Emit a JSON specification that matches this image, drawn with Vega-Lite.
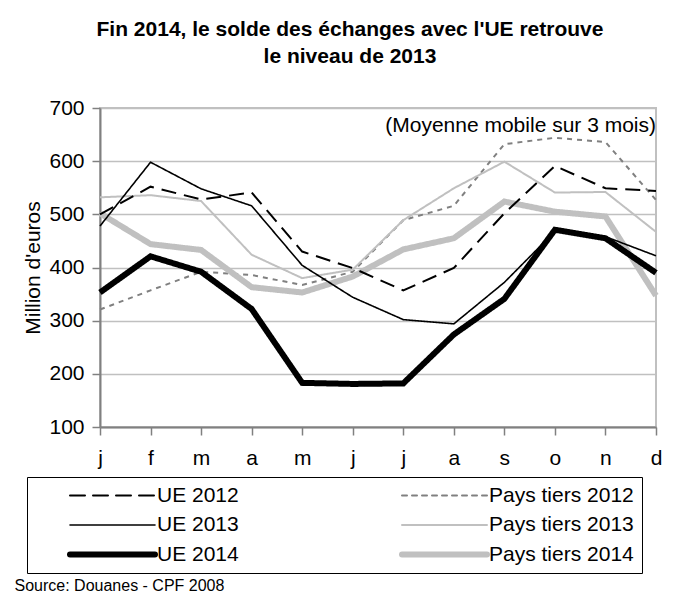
{
  "$schema": "https://vega.github.io/schema/vega-lite/v6.json",
  "autosize": {"type": "none"},
  "width": 556,
  "height": 319,
  "padding": {"left": 100, "top": 108, "right": 24, "bottom": 170},
  "background": "white",
  "config": {
    "font": "Liberation Sans",
    "view": {"stroke": "#c0c0c0", "strokeWidth": 2},
    "axis": {
      "labelFont": "Liberation Sans",
      "labelFontSize": 21,
      "labelColor": "black",
      "domainColor": "#808080",
      "domainWidth": 2,
      "tickColor": "#808080",
      "tickWidth": 1.5,
      "tickSize": 8,
      "gridColor": "#c0c0c0",
      "gridWidth": 1.5,
      "titleFont": "Liberation Sans",
      "titleColor": "black",
      "titleFontWeight": "normal"
    }
  },
  "title": {
    "text": ["Fin 2014, le solde des échanges avec l'UE retrouve", "le niveau de 2013"],
    "font": "Liberation Sans",
    "fontSize": 21,
    "fontWeight": "bold",
    "color": "black",
    "anchor": "middle",
    "dx": -28,
    "offset": 30,
    "lineHeight": 27
  },
  "layer": [
    {
      "data": {
        "values": [
          {"s": "Pays tiers 2012", "m": 1, "v": 321}, {"s": "Pays tiers 2012", "m": 2, "v": 357}, {"s": "Pays tiers 2012", "m": 3, "v": 392}, {"s": "Pays tiers 2012", "m": 4, "v": 386}, {"s": "Pays tiers 2012", "m": 5, "v": 367}, {"s": "Pays tiers 2012", "m": 6, "v": 392}, {"s": "Pays tiers 2012", "m": 7, "v": 489}, {"s": "Pays tiers 2012", "m": 8, "v": 516}, {"s": "Pays tiers 2012", "m": 9, "v": 632}, {"s": "Pays tiers 2012", "m": 10, "v": 644}, {"s": "Pays tiers 2012", "m": 11, "v": 636}, {"s": "Pays tiers 2012", "m": 12, "v": 527},
          {"s": "Pays tiers 2013", "m": 1, "v": 532}, {"s": "Pays tiers 2013", "m": 2, "v": 536}, {"s": "Pays tiers 2013", "m": 3, "v": 525}, {"s": "Pays tiers 2013", "m": 4, "v": 424}, {"s": "Pays tiers 2013", "m": 5, "v": 380}, {"s": "Pays tiers 2013", "m": 6, "v": 396}, {"s": "Pays tiers 2013", "m": 7, "v": 489}, {"s": "Pays tiers 2013", "m": 8, "v": 549}, {"s": "Pays tiers 2013", "m": 9, "v": 599}, {"s": "Pays tiers 2013", "m": 10, "v": 541}, {"s": "Pays tiers 2013", "m": 11, "v": 542}, {"s": "Pays tiers 2013", "m": 12, "v": 467},
          {"s": "Pays tiers 2014", "m": 1, "v": 502}, {"s": "Pays tiers 2014", "m": 2, "v": 444}, {"s": "Pays tiers 2014", "m": 3, "v": 433}, {"s": "Pays tiers 2014", "m": 4, "v": 363}, {"s": "Pays tiers 2014", "m": 5, "v": 353}, {"s": "Pays tiers 2014", "m": 6, "v": 383}, {"s": "Pays tiers 2014", "m": 7, "v": 434}, {"s": "Pays tiers 2014", "m": 8, "v": 455}, {"s": "Pays tiers 2014", "m": 9, "v": 524}, {"s": "Pays tiers 2014", "m": 10, "v": 505}, {"s": "Pays tiers 2014", "m": 11, "v": 496}, {"s": "Pays tiers 2014", "m": 12, "v": 347},
          {"s": "UE 2012", "m": 1, "v": 500}, {"s": "UE 2012", "m": 2, "v": 552}, {"s": "UE 2012", "m": 3, "v": 528}, {"s": "UE 2012", "m": 4, "v": 541}, {"s": "UE 2012", "m": 5, "v": 430}, {"s": "UE 2012", "m": 6, "v": 399}, {"s": "UE 2012", "m": 7, "v": 357}, {"s": "UE 2012", "m": 8, "v": 399}, {"s": "UE 2012", "m": 9, "v": 502}, {"s": "UE 2012", "m": 10, "v": 591}, {"s": "UE 2012", "m": 11, "v": 549}, {"s": "UE 2012", "m": 12, "v": 544},
          {"s": "UE 2013", "m": 1, "v": 478}, {"s": "UE 2013", "m": 2, "v": 598}, {"s": "UE 2013", "m": 3, "v": 548}, {"s": "UE 2013", "m": 4, "v": 516}, {"s": "UE 2013", "m": 5, "v": 404}, {"s": "UE 2013", "m": 6, "v": 344}, {"s": "UE 2013", "m": 7, "v": 302}, {"s": "UE 2013", "m": 8, "v": 294}, {"s": "UE 2013", "m": 9, "v": 372}, {"s": "UE 2013", "m": 10, "v": 468}, {"s": "UE 2013", "m": 11, "v": 458}, {"s": "UE 2013", "m": 12, "v": 422},
          {"s": "UE 2014", "m": 1, "v": 353}, {"s": "UE 2014", "m": 2, "v": 421}, {"s": "UE 2014", "m": 3, "v": 392}, {"s": "UE 2014", "m": 4, "v": 322}, {"s": "UE 2014", "m": 5, "v": 183}, {"s": "UE 2014", "m": 6, "v": 181}, {"s": "UE 2014", "m": 7, "v": 182}, {"s": "UE 2014", "m": 8, "v": 274}, {"s": "UE 2014", "m": 9, "v": 341}, {"s": "UE 2014", "m": 10, "v": 471}, {"s": "UE 2014", "m": 11, "v": 455}, {"s": "UE 2014", "m": 12, "v": 390}
        ]
      },
      "mark": {"type": "line", "strokeJoin": "miter"},
      "encoding": {
        "x": {
          "field": "m",
          "type": "ordinal",
          "scale": {"type": "point", "padding": 0},
          "axis": {
            "labelExpr": "['j','f','m','a','m','j','j','a','s','o','n','d'][datum.value-1]",
            "labelAngle": 0,
            "labelPadding": 12,
            "grid": false,
            "title": "Source: Douanes - CPF 2008",
            "titleFontSize": 16,
            "titleX": -86,
            "titleY": 158,
            "titleAlign": "left",
            "titleBaseline": "middle"
          }
        },
        "y": {
          "field": "v",
          "type": "quantitative",
          "scale": {"domain": [100, 700], "nice": false, "zero": false},
          "axis": {
            "values": [100, 200, 300, 400, 500, 600, 700],
            "grid": true,
            "labelPadding": 8,
            "title": "Million d'euros",
            "titleFontSize": 21,
            "titleX": -67,
            "titleY": 159.5,
            "titleAlign": "center",
            "titleBaseline": "middle"
          }
        },
        "color": {
          "field": "s",
          "type": "nominal",
          "scale": {
            "domain": ["UE 2012", "UE 2013", "UE 2014", "Pays tiers 2012", "Pays tiers 2013", "Pays tiers 2014"],
            "range": ["black", "black", "black", "#808080", "#c0c0c0", "#c0c0c0"]
          },
          "legend": {
            "title": null,
            "orient": "none",
            "legendX": -73,
            "legendY": 369,
            "columns": 2,
            "symbolType": "stroke",
            "symbolSize": 7225,
            "clipHeight": 21,
            "labelFont": "Liberation Sans",
            "labelFontSize": 21,
            "labelColor": "black",
            "labelLimit": 400,
            "strokeColor": "black",
            "padding": 8,
            "rowPadding": 7.5,
            "columnPadding": 128,
            "symbolOffset": 32,
            "labelOffset": -1,
            "encode": {"symbols": {"update": {"strokeCap": {"value": "round"}}}}
          }
        },
        "strokeDash": {
          "field": "s",
          "type": "nominal",
          "scale": {
            "domain": ["UE 2012", "UE 2013", "UE 2014", "Pays tiers 2012", "Pays tiers 2013", "Pays tiers 2014"],
            "range": [[15, 8], [1, 0], [1, 0], [5, 5], [1, 0], [1, 0]]
          }
        },
        "strokeWidth": {
          "field": "s",
          "type": "nominal",
          "scale": {
            "type": "ordinal",
            "domain": ["UE 2012", "UE 2013", "UE 2014", "Pays tiers 2012", "Pays tiers 2013", "Pays tiers 2014"],
            "range": [2, 1.6, 6, 2, 2, 6]
          }
        }
      }
    },
    {
      "data": {"values": [{"note": "(Moyenne mobile sur 3 mois)"}]},
      "mark": {"type": "text", "align": "right", "baseline": "middle", "font": "Liberation Sans", "fontSize": 21, "color": "black"},
      "encoding": {
        "x": {"datum": 12, "type": "ordinal"},
        "y": {"datum": 666, "type": "quantitative"},
        "text": {"field": "note", "type": "nominal"}
      }
    }
  ]
}
